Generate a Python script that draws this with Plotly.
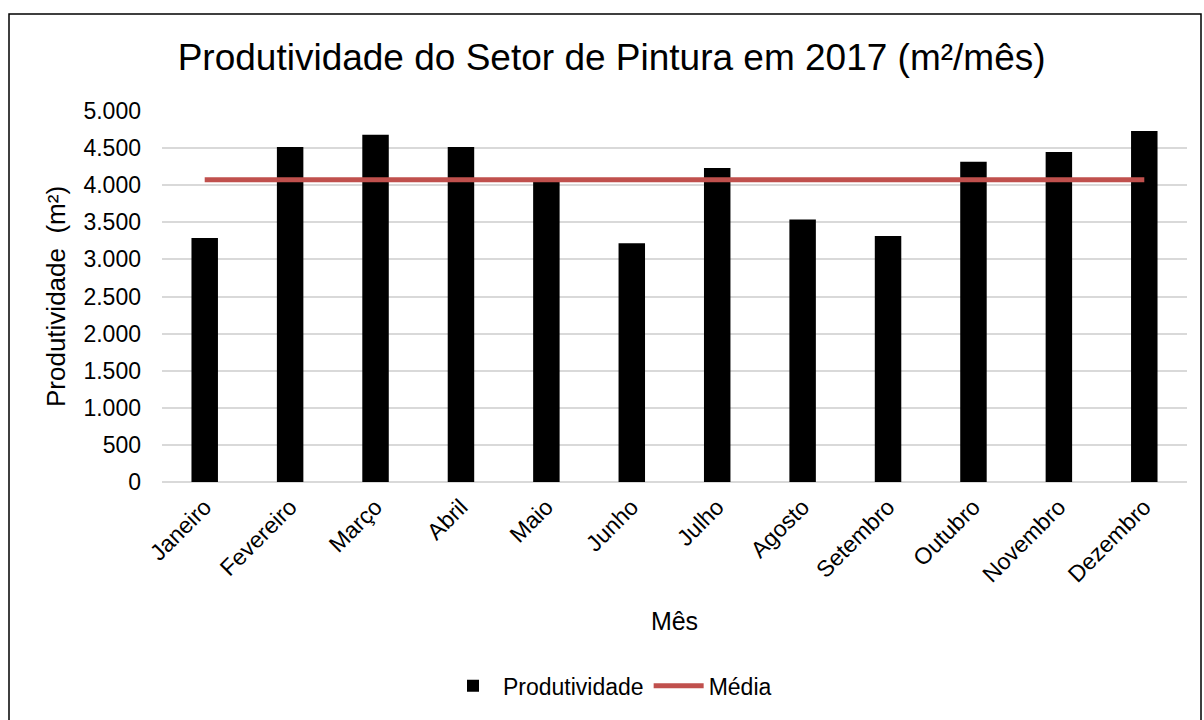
import plotly.graph_objects as go

meses = ["Janeiro", "Fevereiro", "Março", "Abril", "Maio", "Junho",
         "Julho", "Agosto", "Setembro", "Outubro", "Novembro", "Dezembro"]
produtividade = [3290, 4516, 4680, 4516, 4060, 3218, 4231, 3538, 3316, 4316, 4449, 4729]
media = [4075, 4075, 4075, 4075, 4075, 4075, 4075, 4075, 4075, 4075, 4075, 4075]
y_ticks = [0, 500, 1000, 1500, 2000, 2500, 3000, 3500, 4000, 4500, 5000]

FONT = "Liberation Sans, Arial, sans-serif"
W, H = 1204, 720
L, R, T, B = 162, 17, 111, 234
pw, ph = W - L - R, H - T - B

def px_x(p):
    return (p - L) / pw

def px_y(p):
    return (H - B - p) / ph

fig = go.Figure()
fig.add_trace(go.Bar(x=meses, y=produtividade, name="Produtividade",
                     marker=dict(color="#000000", line=dict(width=0))))
fig.add_trace(go.Scatter(x=meses, y=media, name="Média", mode="lines",
                         line=dict(color="#C0504D", width=5)))

fig.update_layout(
    width=W, height=H,
    margin=dict(l=L, r=R, t=T, b=B),
    paper_bgcolor="white", plot_bgcolor="white",
    font=dict(family=FONT, color="#000000", size=23),
    separators=",.",
    bargap=0.69,
    title=dict(text="Produtividade do Setor de Pintura em 2017 (m²/mês)",
               font=dict(size=37, family=FONT, color="#000000"),
               x=0.508, xanchor="center", xref="container",
               y=1 - 57 / H, yanchor="middle", yref="container"),
    xaxis=dict(tickangle=-45, tickfont=dict(size=23), showgrid=False,
               showline=False, ticks="", automargin=False, ticklabelstandoff=6,
               title=dict(text="Mês", font=dict(size=25), standoff=26)),
    yaxis=dict(range=[0, 5000], tickvals=y_ticks, tickformat=",d",
               tickfont=dict(size=23), showgrid=True, gridcolor="#D9D9D9",
               gridwidth=1.5, zeroline=True, zerolinecolor="#D9D9D9",
               zerolinewidth=1.5, showline=False, ticks="", automargin=False,
               ticklabelstandoff=20,
               title=dict(text="Produtividade  (m²)", font=dict(size=26), standoff=10)),
    legend=dict(orientation="h", x=px_x(610), xanchor="center",
                y=px_y(692), yanchor="middle", font=dict(size=23),
                bgcolor="rgba(0,0,0,0)", itemwidth=50),
    showlegend=True,
    shapes=[dict(type="rect", xref="paper", yref="paper",
                 x0=px_x(9), x1=px_x(1201), y0=px_y(13), y1=px_y(735),
                 line=dict(color="#000000", width=1.5), layer="below")],
)

fig.write_html("out.html", config={"displayModeBar": False},
               post_script="document.body.style.margin='0';document.body.style.overflow='hidden';")
